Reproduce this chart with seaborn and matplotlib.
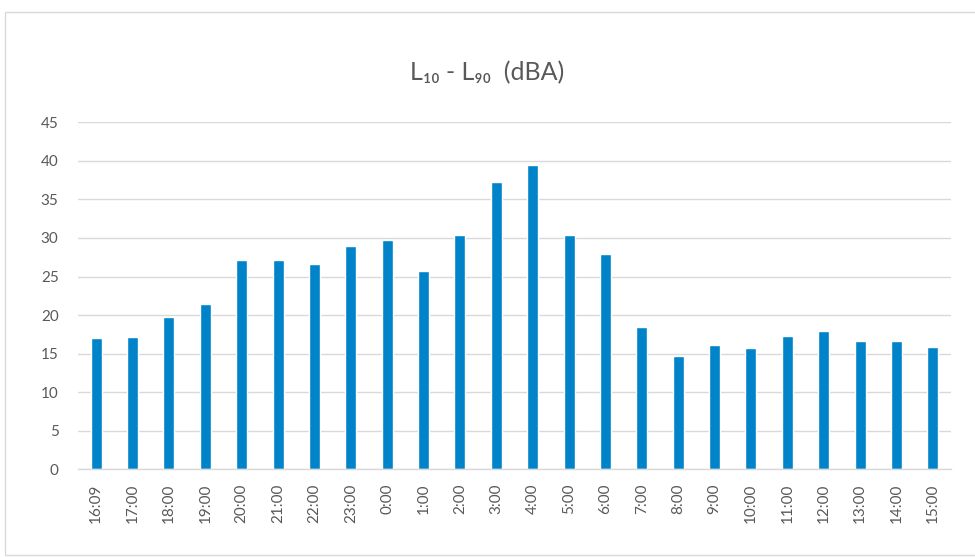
import matplotlib
matplotlib.use("Agg")
import matplotlib.pyplot as plt
import seaborn as sns
import pandas as pd
from matplotlib.patches import Rectangle

times = ["16:09", "17:00", "18:00", "19:00", "20:00", "21:00", "22:00", "23:00",
         "0:00", "1:00", "2:00", "3:00", "4:00", "5:00", "6:00", "7:00",
         "8:00", "9:00", "10:00", "11:00", "12:00", "13:00", "14:00", "15:00"]
values = [17.0, 17.1, 19.8, 21.5, 27.2, 27.2, 26.6, 28.9,
          29.7, 25.7, 30.4, 37.2, 39.5, 30.4, 27.9, 18.4,
          14.7, 16.1, 15.7, 17.3, 18.0, 16.7, 16.7, 15.9]
yticks = [0, 5, 10, 15, 20, 25, 30, 35, 40, 45]
title = "L₁₀ - L₉₀  (dBA)"

sns.set_theme(style="white")
plt.rcParams['font.family'] = ['Lato', 'DejaVu Sans']

df = pd.DataFrame({"time": times, "value": values})

fig = plt.figure(figsize=(9.75, 5.57), dpi=100)
ax = fig.add_axes([0.080, 0.1574, 0.8954, 0.623])

sns.barplot(data=df, x="time", y="value", color="#0083C9", width=0.3,
            saturation=1, ax=ax, order=times)

ax.set_xlim(-0.5, len(times) - 0.5)
ax.set_ylim(0, 45)
ax.set_yticks(yticks)
ax.set_yticklabels([str(t) for t in yticks])
ax.grid(axis="y", color="#D9D9D9", linewidth=1)
ax.set_axisbelow(True)
for s in ["top", "right", "left"]:
    ax.spines[s].set_visible(False)
ax.spines["bottom"].set_color("#D9D9D9")
ax.spines["bottom"].set_linewidth(1)
ax.set_xlabel("")
ax.set_ylabel("")
ax.tick_params(axis="x", labelrotation=90, colors="#595959", labelsize=11, length=0, pad=10)
ax.tick_params(axis="y", colors="#595959", labelsize=11, length=0, pad=14)

fig.text(0.5, 0.87, title, ha="center", va="center", fontsize=18, color="#595959")

fig.patches.append(Rectangle((5 / 975, 2 / 557), 1.2, 543 / 557, transform=fig.transFigure,
                             fill=False, edgecolor="#D9D9D9", linewidth=1))

fig.savefig("out.png", dpi=100)
